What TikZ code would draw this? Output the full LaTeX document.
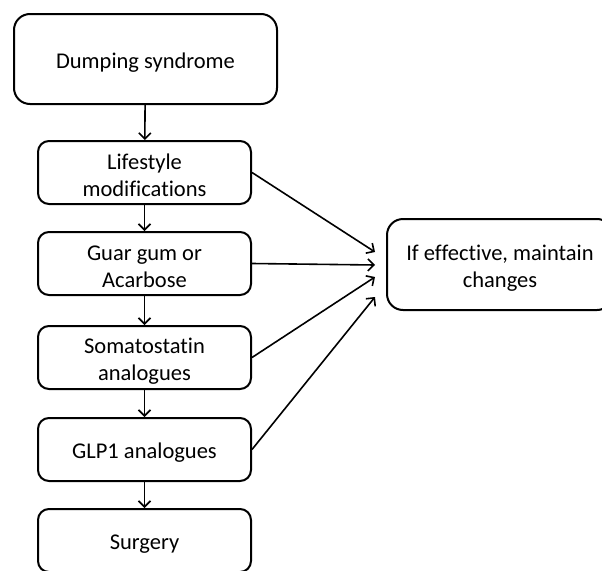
\documentclass[tikz,border=0pt]{standalone}
\usepackage{fontspec}
\setmainfont[RawFeature=-liga]{Carlito}
\usetikzlibrary{arrows.meta,calc}
\newcommand\mystrut{\rule{0pt}{22pt}}
\begin{document}
\begin{tikzpicture}[x=1pt,y=-1pt,
  box/.style={draw,line width=2pt,rounded corners=11pt,align=center,
    font=\fontsize{22.5}{27}\selectfont,inner sep=0pt},
  arr/.style={line width=1.6pt,-{Straight Barb[length=6pt,width=12pt,line width=1.6pt]}}]
\useasboundingbox (0,0) rectangle (602,570);
\clip (0,0) rectangle (602,570);
\node[box,rounded corners=16pt,minimum width=263pt,minimum height=90pt] (ds) at (145.5,59) {\mystrut Dumping syndrome};
\node[box,minimum width=213pt,minimum height=63pt] (ls) at (144.5,172.5) {\mystrut Lifestyle\\modifications};
\node[box,minimum width=213pt,minimum height=63pt] (gg) at (144.5,263.5) {\mystrut Guar gum or\\Acarbose};
\node[box,minimum width=213pt,minimum height=63pt] (sa) at (144.5,357.5) {\mystrut Somatostatin\\analogues};
\node[box,minimum width=213pt,minimum height=63pt] (gl) at (144.5,449.5) {\mystrut GLP1 analogues};
\node[box,minimum width=213pt,minimum height=63pt] (su) at (144.5,540.5) {\mystrut Surgery};
\node[box,rounded corners=16pt,minimum width=226pt,minimum height=91pt] (ef) at (500,264.5) {\mystrut If effective, maintain\\changes};
\coordinate (t1) at ($(ef.west)+(-11,-12.5)$);
\coordinate (t2) at ($(ef.west)+(-11,0.5)$);
\coordinate (t3) at ($(ef.west)+(-11,12.5)$);
\coordinate (t4) at ($(ef.west)+(-11,32.5)$);
\draw[arr] (ds) -- (ls);
\draw[arr] (ls) -- (gg);
\draw[arr] (gg) -- (sa);
\draw[arr] (sa) -- (gl);
\draw[arr] (gl) -- (su);
\draw[arr] (ls.east) -- (t1);
\draw[arr] (gg.east) -- (t2);
\draw[arr] (sa.east) -- (t3);
\draw[arr] (gl.east) -- (t4);
\end{tikzpicture}
\end{document}
